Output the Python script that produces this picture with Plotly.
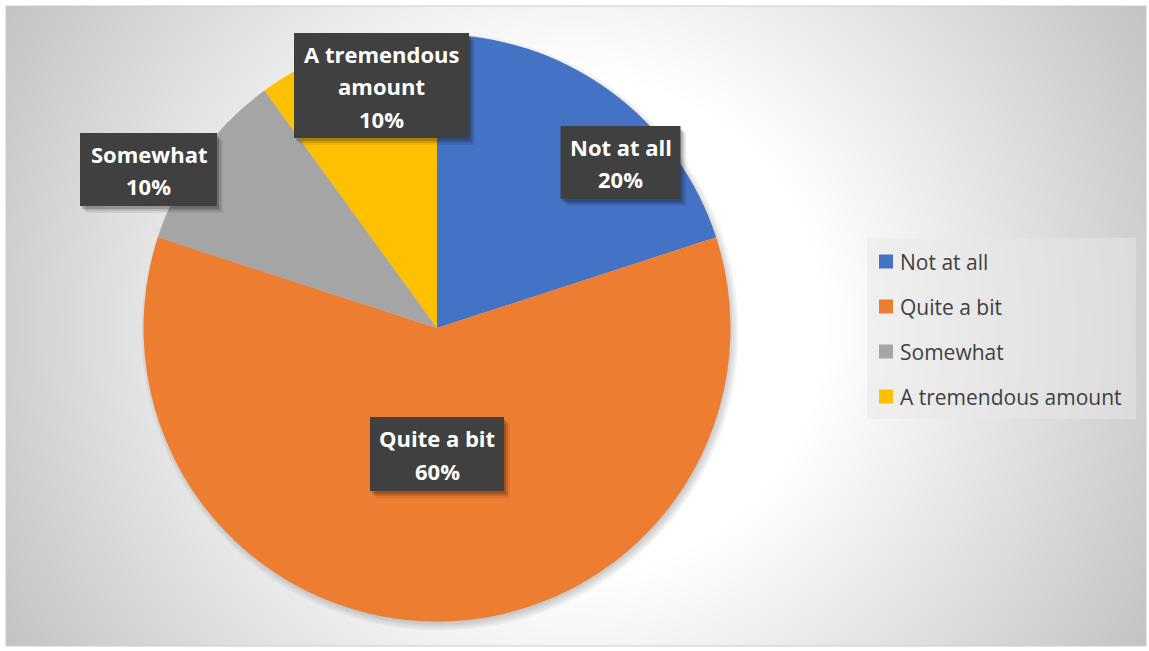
import base64
import struct
import zlib
import textwrap

import numpy as np
import plotly.graph_objects as go

# ---------------- data ----------------
categories = ["Not at all", "Quite a bit", "Somewhat", "A tremendous amount"]
values = [20, 60, 10, 10]
colors = ["#4472C4", "#ED7D31", "#A5A5A5", "#FFC000"]

# ---------------- layout helpers ----------------
W, H = 1149, 651
PL, PR, PT, PB = 6, 3, 6, 5
PW, PH = W - PL - PR, H - PT - PB


def fx(X):
    return (X - PL) / PW


def fy(Y):
    return 1 - (Y - PT) / PH


# pie geometry (pixels)
PIE_CX, PIE_CY, PIE_R = 437, 328, 293.5

# label box placement (pixels: centre x, centre y, width, height) per category
label_boxes = [
    (620.5, 162.5, 120, 73),
    (437, 454, 134, 74),
    (148.5, 169.5, 137, 73),
    (381.5, 85.5, 175, 105),
]
LINE_GAP = 32.5

# legend placement
LEG_BOX = (867, 238, 1136, 419)
LEG_ROWS_Y0, LEG_ROW_GAP = 261.5, 45
LEG_SQ_X0, LEG_SQ = 879, 14
LEG_TEXT_X = 898


# ---------------- background gradient image ----------------
def gradient_png(scale=2):
    w, h = PW // scale, PH // scale
    ys, xs = np.mgrid[0:h, 0:w]
    X = (xs + 0.5) * scale
    Y = (ys + 0.5) * scale
    cx, cy = PW * 0.5, PH * 0.5
    r = np.hypot(X - cx, Y - cy) / np.hypot(cx, cy)
    t = np.clip((r - 0.38) / 0.62, 0, 1)
    g = (255 - 60 * t).round().astype(np.uint8)
    raw = b"".join(b"\x00" + g[i].tobytes() for i in range(h))

    def chunk(tag, data):
        c = struct.pack(">I", len(data)) + tag + data
        return c + struct.pack(">I", zlib.crc32(tag + data) & 0xFFFFFFFF)

    ihdr = struct.pack(">IIBBBBB", w, h, 8, 0, 0, 0, 0)
    png = (b"\x89PNG\r\n\x1a\n" + chunk(b"IHDR", ihdr)
           + chunk(b"IDAT", zlib.compress(raw, 9)) + chunk(b"IEND", b""))
    return "data:image/png;base64," + base64.b64encode(png).decode()


fig = go.Figure()

fig.add_trace(go.Pie(
    labels=categories,
    values=values,
    marker=dict(colors=colors, line=dict(width=0)),
    sort=False,
    direction="clockwise",
    rotation=0,
    textinfo="none",
    hoverinfo="label+percent",
    showlegend=False,
    domain=dict(x=[fx(PIE_CX - PIE_R), fx(PIE_CX + PIE_R)],
                y=[fy(PIE_CY + PIE_R), fy(PIE_CY - PIE_R)]),
))

shapes = []
annotations = []

# pie soft shadow
for k in [0, 2, 4, 6, 8]:
    r = PIE_R + k - 3
    cx, cy = PIE_CX + 3, PIE_CY + 4
    shapes.append(dict(type="circle", xref="paper", yref="paper", layer="below",
                       x0=fx(cx - r), x1=fx(cx + r), y0=fy(cy + r), y1=fy(cy - r),
                       fillcolor="rgba(0,0,0,0.045)", line=dict(width=0)))

# data label boxes
total = sum(values)
for cat, val, (bx, by, bw, bh) in zip(categories, values, label_boxes):
    for (dx, dy, a) in [(2, 3, 0.18), (4, 5, 0.12), (6, 7, 0.07)]:
        shapes.append(dict(type="rect", xref="paper", yref="paper", layer="above",
                           x0=fx(bx - bw / 2 + dx), x1=fx(bx + bw / 2 + dx),
                           y0=fy(by + bh / 2 + dy), y1=fy(by - bh / 2 + dy),
                           fillcolor=f"rgba(0,0,0,{a})", line=dict(width=0)))
    shapes.append(dict(type="rect", xref="paper", yref="paper", layer="above",
                       x0=fx(bx - bw / 2), x1=fx(bx + bw / 2),
                       y0=fy(by + bh / 2), y1=fy(by - bh / 2),
                       fillcolor="#404040", line=dict(width=0)))
    lines = textwrap.wrap(cat, 12) + [f"{round(val / total * 100)}%"]
    n = len(lines)
    for i, line in enumerate(lines):
        ly = by + 0.5 + (i - (n - 1) / 2) * LINE_GAP
        annotations.append(dict(text=f"<b>{line}</b>", xref="paper", yref="paper",
                                x=fx(bx), y=fy(ly), xanchor="center", yanchor="middle",
                                showarrow=False,
                                font=dict(family="Open Sans", size=22, color="white")))

# manual legend
shapes.append(dict(type="rect", xref="paper", yref="paper", layer="above",
                   x0=fx(LEG_BOX[0]), x1=fx(LEG_BOX[2]),
                   y0=fy(LEG_BOX[3]), y1=fy(LEG_BOX[1]),
                   fillcolor="rgba(232,232,232,0.5)", line=dict(width=0)))
for i, (cat, col) in enumerate(zip(categories, colors)):
    ry = LEG_ROWS_Y0 + i * LEG_ROW_GAP
    shapes.append(dict(type="rect", xref="paper", yref="paper", layer="above",
                       x0=fx(LEG_SQ_X0), x1=fx(LEG_SQ_X0 + LEG_SQ),
                       y0=fy(ry + LEG_SQ / 2), y1=fy(ry - LEG_SQ / 2),
                       fillcolor=col, line=dict(width=0)))
    annotations.append(dict(text=cat, xref="paper", yref="paper",
                            x=fx(LEG_TEXT_X), y=fy(ry), xanchor="left", yanchor="middle",
                            showarrow=False,
                            font=dict(family="Open Sans", size=21, color="#404040")))

# chart border
shapes.append(dict(type="rect", xref="paper", yref="paper", layer="above",
                   x0=0, x1=1, y0=0, y1=1, fillcolor="rgba(0,0,0,0)",
                   line=dict(color="#cccccc", width=1)))

fig.update_layout(
    width=W, height=H,
    margin=dict(l=PL, r=PR, t=PT, b=PB, pad=0),
    paper_bgcolor="white",
    plot_bgcolor="white",
    showlegend=False,
    shapes=shapes,
    annotations=annotations,
    images=[dict(source=gradient_png(2), xref="paper", yref="paper",
                 x=0, y=1, sizex=1, sizey=1, xanchor="left", yanchor="top",
                 sizing="stretch", layer="below")],
)

fig.write_html("out.html",
               config={"displayModeBar": False},
               post_script="document.body.style.margin='0';"
                           "document.body.style.overflow='hidden';")
